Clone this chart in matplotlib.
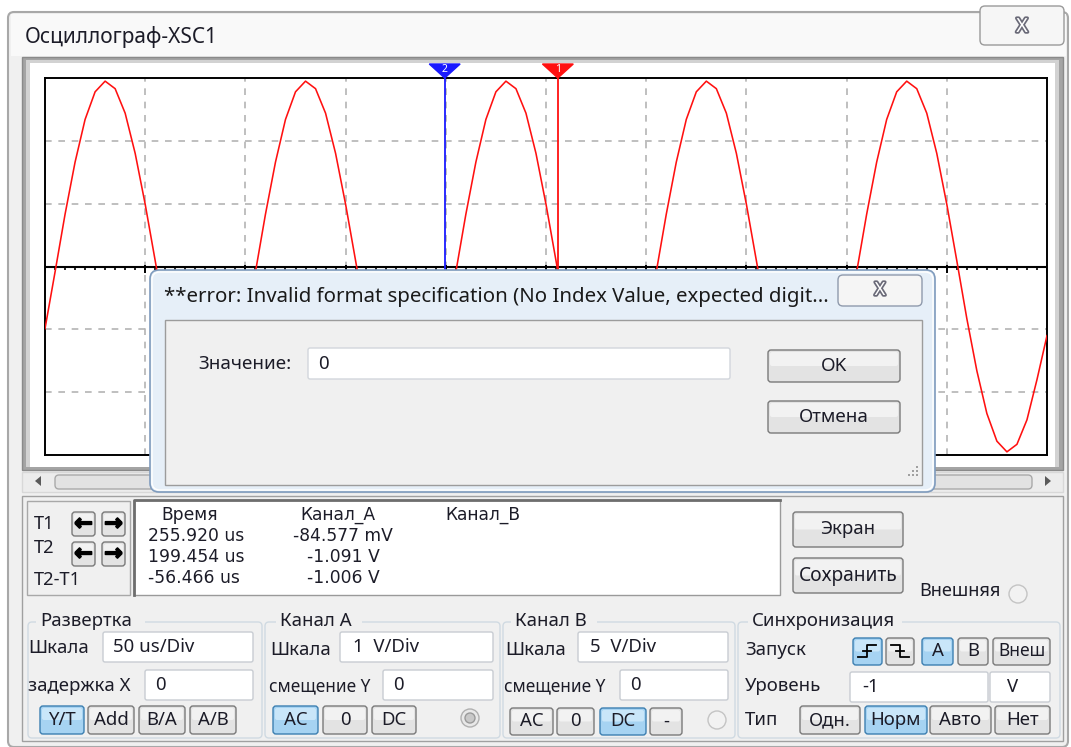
import numpy as np
import matplotlib
matplotlib.use("Agg")
import matplotlib.pyplot as plt
from matplotlib.patches import FancyBboxPatch, Rectangle, Circle, Polygon
from matplotlib.transforms import blended_transform_factory
import matplotlib.patheffects as pe

plt.rcParams['font.family'] = ['Noto Sans', 'DejaVu Sans']

W, H = 1071, 747
INK = '#1c1c28'
LBL = 13.4   # label size in the control panel

# channel A, one sample every 5 us (1 V/Div)
sample_step_us = 5
chan_a_volts = [
    -0.99, -0.09, 0.83, 1.66, 2.34, 2.78, 2.95, 2.83, 2.44, 1.80,
    0.99, 0.09, -0.83, -1.66, -2.34, -2.78, -2.95, -2.83, -2.44, -1.80,
    -0.99, -0.09, 0.83, 1.66, 2.34, 2.78, 2.95, 2.83, 2.44, 1.80,
    0.99, 0.09, -0.83, -1.66, -2.34, -2.78, -2.95, -2.83, -2.44, -1.80,
    -0.99, -0.09, 0.83, 1.66, 2.34, 2.78, 2.95, 2.83, 2.44, 1.80,
    0.99, 0.09, -0.83, -1.66, -2.34, -2.78, -2.95, -2.83, -2.44, -1.80,
    -0.99, -0.09, 0.83, 1.66, 2.34, 2.78, 2.95, 2.83, 2.44, 1.80,
    0.99, 0.09, -0.83, -1.66, -2.34, -2.78, -2.95, -2.83, -2.44, -1.80,
    -0.99, -0.09, 0.83, 1.66, 2.34, 2.78, 2.95, 2.83, 2.44, 1.80,
    0.99, 0.09, -0.83, -1.66, -2.34, -2.78, -2.95, -2.83, -2.44, -1.80,
    -1.10,
]
time_us = np.arange(len(chan_a_volts)) * sample_step_us

# cursors
t1_us, t2_us = 255.920, 199.454
a_t1_v, a_t2_v = -0.084577, -1.091

sweep_us_div = 50
n_xdiv, n_ydiv = 10, 6


def fmt_v(v):
    if abs(v) < 1:
        return f"{v * 1000:.3f} mV"
    return f"{v:.3f} V"


fig = plt.figure(figsize=(W / 100, H / 100), dpi=100)
fig.patch.set_facecolor('white')

ui = fig.add_axes([0, 0, 1, 1], zorder=0)
ui.set_xlim(0, W)
ui.set_ylim(H, 0)
ui.axis('off')


def box(ax, x0, y0, x1, y1, fc, ec, r=3, lw=1.0, z=1, alpha=1.0):
    p = FancyBboxPatch((x0, y0), x1 - x0, y1 - y0,
                       boxstyle=f"round,pad=0,rounding_size={r}",
                       fc=fc, ec=ec, lw=lw, zorder=z, alpha=alpha)
    ax.add_patch(p)
    return p


def txt(ax, x, y, s, size=LBL, ha='left', color=INK, z=5, **kw):
    ax.text(x, y, s, fontsize=size, ha=ha, va='center', color=color,
            zorder=z, **kw)


def button(ax, x0, y0, x1, y1, label, active=False, size=LBL, z=3):
    if active:
        box(ax, x0, y0, x1, y1, '#a6d3f2', '#3c7fb1', r=3, z=z)
        box(ax, x0 + 2, y0 + 2, x1 - 2, (y0 + y1) / 2, '#c9e6f9', 'none', r=2, z=z)
    else:
        box(ax, x0, y0, x1, y1, '#e3e3e3', '#7a7a7a', r=3, z=z)
        box(ax, x0 + 2, y0 + 2, x1 - 2, (y0 + y1) / 2, '#f2f2f2', 'none', r=2, z=z)
    if label:
        txt(ax, (x0 + x1) / 2, (y0 + y1) / 2, label, size=size, ha='center', z=z + 1)


def field(ax, x0, y0, x1, y1, s, pad=10, size=LBL):
    box(ax, x0, y0, x1, y1, 'white', '#c8ccd2', r=2, z=2)
    txt(ax, x0 + pad, (y0 + y1) / 2, s, size=size, z=3)


def group(ax, x0, y0, x1, y1, title, tx):
    box(ax, x0, y0, x1, y1, 'none', '#d0dae2', r=4, z=1)
    ax.add_patch(Rectangle((tx - 4, y0 - 6), len(title) * 11.2 + 8, 12,
                           fc='#f0f0f0', ec='none', zorder=1.5))
    txt(ax, tx, y0 - 1, title, z=2)


# window
box(ui, 8, 12, 1068, 747, '#f0f0f0', '#a8a8a8', r=6, lw=1.5, z=0.5)
ui.add_patch(Rectangle((11, 14), 1055, 42, fc='#f9f9f9', ec='none', zorder=0.6))
txt(ui, 25, 37, 'Осциллограф-XSC1', size=15)
box(ui, 980, 6, 1064, 45, '#f6f6f6', '#9a9a9a', r=5, z=1)
ui.text(1022, 27, 'X', fontsize=14, ha='center', va='center', color='white',
        fontweight='bold', zorder=2,
        path_effects=[pe.withStroke(linewidth=2.5, foreground='#6a6a78')])

# scope frame
ui.add_patch(Rectangle((22, 57), 1041, 413, fc='#a4a4a4', ec='#8a8a8a', lw=1, zorder=1))
ui.add_patch(Rectangle((26, 60), 1033, 407, fc='#d2d2d2', ec='none', zorder=1.1))
ui.add_patch(Rectangle((30, 63), 1025, 404, fc='white', ec='none', zorder=1.2))

# scrollbar
ui.add_patch(Rectangle((22, 472), 1041, 20, fc='#ececec', ec='#d8d8d8', zorder=1))
box(ui, 55, 475, 1032, 489, '#e2e2e2', '#a9a9a9', r=4, z=1.5)
ui.add_patch(Polygon([[35, 481], [41, 476], [41, 486]], closed=True, fc='#5a5a5a', ec='none', zorder=2))
ui.add_patch(Polygon([[1051, 481], [1045, 476], [1045, 486]], closed=True, fc='#5a5a5a', ec='none', zorder=2))

# lower panel frame
ui.add_patch(Rectangle((22, 496), 1041, 245, fc='none', ec='#a0a0a0', lw=1, zorder=1))

# T1/T2 block
ui.add_patch(Rectangle((27, 501), 103, 94, fc='#f0f0f0', ec='#a8a8a8', lw=1, zorder=1))
txt(ui, 34, 524, 'T1', size=13.2)
txt(ui, 34, 548, 'T2', size=13.2)
txt(ui, 34, 580, 'T2-T1', size=13.2)
for (bx, by, arrow) in [(72, 512, '←'), (102, 512, '→'), (72, 542, '←'), (102, 542, '→')]:
    button(ui, bx, by, bx + 23, by + 24, None)
    ui.text(bx + 11.5, by + 12, arrow, fontsize=16, ha='center', va='center',
            color='black', fontweight='bold', family='DejaVu Sans', zorder=5,
            path_effects=[pe.withStroke(linewidth=1.2, foreground='black')])

# readout
ui.add_patch(Rectangle((134, 500), 646, 95, fc='white', ec='#9a9a9a', lw=1, zorder=1))
ui.plot([134, 134, 780], [595, 500, 500], color='#6e6e6e', lw=2, zorder=1.5)
RO = dict(size=12.3, family='DejaVu Sans')
txt(ui, 190, 515, 'Время', ha='center', **RO)
txt(ui, 338, 515, 'Канал_A', ha='center', **RO)
txt(ui, 483, 515, 'Канал_B', ha='center', **RO)
rows_t = [t1_us, t2_us, t2_us - t1_us]
rows_a = [a_t1_v, a_t2_v, a_t2_v - a_t1_v]
for i, (tv, av) in enumerate(zip(rows_t, rows_a)):
    y = 536 + i * 21
    txt(ui, 148, y, f"{tv:.3f} us", **RO)
    txt(ui, 343, y, fmt_v(av), ha='center', **RO)

button(ui, 793, 512, 903, 547, 'Экран')
button(ui, 793, 558, 903, 593, 'Сохранить', size=13.8)
txt(ui, 919, 591, 'Внешняя', size=13.1)
ui.add_patch(Circle((1018, 594), 9, fc='#f2f2f2', ec='#c4c4c4', lw=1, zorder=2))

# Развертка
group(ui, 28, 622, 262, 738, 'Развертка', 40)
txt(ui, 28, 648, 'Шкала')
field(ui, 103, 632, 253, 662, f'{sweep_us_div} us/Div')
txt(ui, 28, 686, 'задержка X')
field(ui, 145, 670, 253, 700, '0')
for (x0, x1, lab, act) in [(40, 84, 'Y/T', True), (88, 134, 'Add', False),
                           (139, 185, 'B/A', False), (190, 236, 'A/B', False)]:
    button(ui, x0, 706, x1, 734, lab, act)

# Канал А
group(ui, 265, 622, 500, 738, 'Канал А', 280)
txt(ui, 270, 650, 'Шкала')
field(ui, 340, 632, 493, 662, '1  V/Div', pad=13)
txt(ui, 269, 686, 'смещение Y', size=12.4)
field(ui, 383, 670, 493, 700, '0')
for (x0, x1, lab, act) in [(273, 318, 'AC', True), (323, 367, '0', False), (372, 416, 'DC', False)]:
    button(ui, x0, 706, x1, 734, lab, act)
ui.add_patch(Circle((470, 718), 9, fc='#e8e8e8', ec='#b0b0b0', lw=1, zorder=2))
ui.add_patch(Circle((470, 718), 5, fc='#c8c8c8', ec='#9a9a9a', lw=1, zorder=2.1))

# Канал В
group(ui, 503, 622, 735, 738, 'Канал В', 515)
txt(ui, 505, 650, 'Шкала')
field(ui, 578, 632, 728, 662, '5  V/Div', pad=12)
txt(ui, 504, 686, 'смещение Y', size=12.4)
field(ui, 620, 670, 728, 700, '0')
for (x0, x1, lab, act) in [(510, 553, 'AC', False), (557, 594, '0', False),
                           (600, 646, 'DC', True), (650, 682, '-', False)]:
    button(ui, x0, 708, x1, 735, lab, act)
ui.add_patch(Circle((717, 720), 9, fc='#f2f2f2', ec='#c4c4c4', lw=1, zorder=2))

# Синхронизация
group(ui, 738, 622, 1060, 738, 'Синхронизация', 752)
txt(ui, 745, 650, 'Запуск')
button(ui, 853, 638, 882, 665, None, True)
ui.plot([858, 867, 867, 876], [657, 657, 645, 645], color='black', lw=1.3, zorder=5)
ui.plot([863, 871], [651, 651], color='black', lw=1.3, zorder=5)
button(ui, 886, 638, 914, 665, None)
ui.plot([891, 900, 900, 909], [645, 645, 657, 657], color='black', lw=1.3, zorder=5)
ui.plot([896, 904], [651, 651], color='black', lw=1.3, zorder=5)
button(ui, 922, 638, 953, 665, 'A', True)
button(ui, 958, 638, 988, 665, 'B')
button(ui, 993, 638, 1050, 665, 'Внеш', size=12.5)
txt(ui, 745, 686, 'Уровень')
field(ui, 850, 672, 988, 702, '-1', pad=12)
field(ui, 990, 672, 1050, 702, 'V', pad=17)
txt(ui, 745, 720, 'Тип')
for (x0, x1, lab, act) in [(800, 860, 'Одн.', False), (865, 927, 'Норм', True),
                           (930, 991, 'Авто', False), (995, 1050, 'Нет', False)]:
    button(ui, x0, 706, x1, 734, lab, act)

# ---- scope screen ----
sx0, sx1, sy0, sy1 = 45, 1047, 78, 455
ax = fig.add_axes([sx0 / W, 1 - sy1 / H, (sx1 - sx0) / W, (sy1 - sy0) / H], zorder=1)
ax.set_xlim(0, n_xdiv * sweep_us_div)
ax.set_ylim(-n_ydiv / 2, n_ydiv / 2)
ax.set_facecolor('white')
ax.set_xticks(np.arange(0, n_xdiv * sweep_us_div + 1, sweep_us_div))
ax.set_yticks(np.arange(-n_ydiv / 2, n_ydiv / 2 + 1, 1))
ax.grid(True, color='#b4b4b4', linestyle=(0, (4, 4)), lw=1.2)
ax.tick_params(length=0, labelbottom=False, labelleft=False)
for sp in ax.spines.values():
    sp.set_color('black')
    sp.set_linewidth(1.4)
ax.axhline(0, color='black', lw=1.5, zorder=3)
minor = np.arange(0, n_xdiv * sweep_us_div + 1, 5)
ax.vlines(minor, -0.06, 0, color='black', lw=1.2, zorder=3)
ax.vlines(ax.get_xticks(), -0.1, 0.03, color='black', lw=1.4, zorder=3)

ax.plot(time_us, chan_a_volts, color='#ff1010', lw=1.15, zorder=4)

ax.axvline(t2_us, color='#1a1aff', lw=1.3, zorder=5)
ax.axvline(t1_us, color='#ff1010', lw=1.3, zorder=5)
bt = blended_transform_factory(ax.transData, ax.transAxes)
tri_h = 14 / (sy1 - sy0)
for t, c, lab in [(t2_us, '#1a1aff', '2'), (t1_us, '#ff1010', '1')]:
    ax.add_patch(Polygon([[t - 7.7, 1 + tri_h], [t + 7.7, 1 + tri_h], [t, 1.0]],
                         closed=True, fc=c, ec=c, transform=bt, clip_on=False, zorder=6))
    ax.text(t, 1 + tri_h * 0.62, lab, transform=bt, fontsize=7.5, color='white',
            fontweight='bold', ha='center', va='center', clip_on=False, zorder=7)

# ---- dialog on top ----
ov = fig.add_axes([0, 0, 1, 1], zorder=2)
ov.set_xlim(0, W)
ov.set_ylim(H, 0)
ov.axis('off')
ov.patch.set_alpha(0)

box(ov, 150, 270, 935, 492, '#e6eff8', '#7f9bbd', r=9, lw=1.2, z=1)
box(ov, 152, 272, 933, 490, 'none', '#ffffff', r=8, lw=1.0, z=1.1)
txt(ov, 164, 297, '**error: Invalid format specification (No Index Value, expected digit...',
    size=14.7, color='#1a1a1a', z=3)
box(ov, 838, 275, 922, 306, '#f5f5f5', '#8f9aac', r=5, z=2)
ov.text(880, 290, 'X', fontsize=13, ha='center', va='center', color='white',
        fontweight='bold', zorder=3,
        path_effects=[pe.withStroke(linewidth=2.5, foreground='#6a6a78')])
ov.add_patch(Rectangle((165, 320), 757, 165, fc='#f0f0f0', ec='#9c9c9c', lw=1, zorder=2))
txt(ov, 292, 364, 'Значение:', size=13.5, ha='right', z=3)
box(ov, 308, 348, 730, 379, 'white', '#d2d6dc', r=2, z=3)
txt(ov, 318, 364, '0', size=13.5, z=4)
button(ov, 768, 350, 900, 382, 'OK', size=13.5, z=3)
button(ov, 768, 401, 900, 433, 'Отмена', size=13.5, z=3)
for (gx, gy) in [(916, 466), (912, 470), (916, 470), (908, 474), (912, 474), (916, 474)]:
    ov.add_patch(Rectangle((gx, gy), 2, 2, fc='#a0a0a0', ec='none', zorder=3))

fig.savefig('out.png', dpi=100)
